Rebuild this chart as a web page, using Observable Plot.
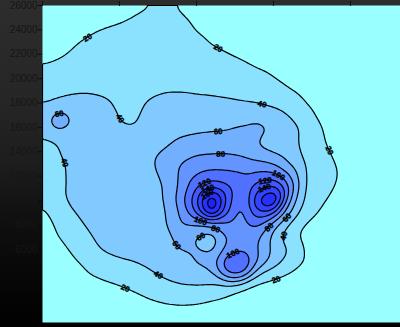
<!DOCTYPE html>
<html>
<head>
<meta charset="utf-8">
<script src="https://cdn.jsdelivr.net/npm/d3@7"></script>
<script src="https://cdn.jsdelivr.net/npm/@observablehq/plot@0.6"></script>
<style>
  html, body { margin: 0; padding: 0; background: #000; }
  #chart svg { display: block; }
</style>
</head>
<body>
<div id="chart"></div>
<script>
// Survey grid: node coordinates (x east, y north) and measured values per row (north to south)
const xNodes = [0, 1000, 2000, 3000, 4000, 5000, 6000, 7000, 8000, 9000, 10000, 11000, 12000,
                13000, 14000, 15000, 16000, 17000, 18000, 19000, 20000, 21000, 22000, 23000, 24000];
const yNodes = [26000, 25000, 24000, 23000, 22000, 21000, 20000, 19000, 18000, 17000, 16000, 15000, 14000,
                13000, 12000, 11000, 10000, 9000, 8000, 7000, 6000, 5000, 4000, 3000, 2000, 1000, 0];
const field = [
  [9,10,11,12,13,15,17,19,23,18,16,14,12,11,10,9,9,8,8,7,7,7,6,6,6],
  [10,11,12,13,15,17,20.5,24,25,21,17,15,13,12,11,10,10,9,9,8,8,7,7,7,6],
  [12,14,16,18.5,21,23,25,27,27,25,19,17,15,14,12,11,11,10,10,9,8,8,7,7,7],
  [14,16.5,19,21.5,24,26,28,30,30,28,23,18.5,16.5,15,14,12.5,12,11,10.5,10,9,9,8,8,7],
  [16,18.5,21,24,27,29,31,33,33,31,28,24,20.2,17.5,16,14.5,13.5,12.5,12,11,10.5,10,9,8.5,8],
  [20.5,22,24,27,30,32,34,35,35,34,32,29,26,22.5,18.5,16.5,15,14,13,12,11.5,11,10,9.5,9],
  [25.5,28,31,33,34,35,36,37,37.5,37,36,35,32,29,25,20.2,17.5,16,15,14,13,12,11.5,11,10],
  [31,36,39,39.5,38.5,37,37,38,39.5,39.5,38.5,38,37,34,30,25.5,20.5,17,16,15,14,13.5,13,12,11],
  [39.5,42.5,44,43,41.5,38.5,37.5,41.5,43,43.5,43.5,43,42,40.8,39,34,27.5,19.5,17.5,16.5,15.5,15,14,13,12],
  [50,70,57,46,43,39.5,38,44,48,50,51,51,51,52,56,51,39.5,23,18.5,17.5,16.5,16,15,14,13],
  [48,70,57,47,44,40.5,39.5,46,52,55,57,58,59,62,64,58.5,50,36,19.5,18,17,16.5,16,15,14],
  [38.5,41,46,47,47,47,48,51,56,61.5,63,64,64,64,60,55,48,35,20.5,18,17,16.5,16,15.5,15],
  [33,39.5,44.5,47,48,49,51,56,62,70,76,77,78,74,61,56,50,36,25,17,16.5,16,16,15.5,15],
  [31,37.5,43,47,49,51,54,57.5,68,82,90,93,93,92,88,79,59,39.5,28,19.5,17.5,17,16.5,16,15.5],
  [30,36,44,47,50,52,55,57.5,62,84,102,108,106,102,106,110,84,39.5,28,20.3,17.5,17,16.5,16,15.5],
  [29,36.5,43,47,50,52,54,56,59.5,85,118,140,125,104,140,152,103,38,26,19,17.5,17,16.5,16,15.5],
  [21,32,46,48,50,52,54,56,59,92,135,215,130,92,165,200,82,37,22,17,16,16,15.5,15.5,15],
  [17,26,39,46,49,52,54,56,57,84,125,200,120,90,135,125,62,30,18,16,15.5,15.5,15,15,14.5],
  [14,22,33,43,48,51,53,55,56,84,80,82,100,92,104,66,38,18,15,14.5,14.5,14,14,14,13.5],
  [16,19,26,38,45,50,53,55,57,64,58,45,81,90,84,52,28,14,13.5,13.5,13,13,13,13,13],
  [12,16,22,33,43,48,51,54,57,61,62,52,88,97,79.5,56,40.5,18.5,13,12.5,12.5,12,12,12,12],
  [9,12,17.5,24,31,36,39,44,50,55,61,70,118,122,79,52,32,20.5,12,11.5,11,11,11,11,11],
  [7,9,13,20.5,26,30,33,38,44,49,54,55,106,110,41,28,19.5,12,11,10.5,10,10,10,10,10],
  [5,7,9,12,15,19,24,30,35,39,39.5,38,35,22,15,12,11,10,10,9.5,9.5,9,9,9,9],
  [4,5,6,8,10,13,16,20.5,24,26,25,21.5,17,13,11,10,9.5,9,9,8.5,8.5,8.5,8,8,8],
  [3,4,5,6,8,10,12,14,15.5,16,15,13,11,10,9,8,8,7.5,7.5,7,7,7,7,7,7],
  [2,3,4,5,6,7,8,9,10,10,10,9,8,8,7,7,6,6,6,6,6,6,6,6,6]
];

// Contour levels and the fill of each band (below 20, 20–40, … , 200 and above)
const levels = [20, 40, 60, 80, 100, 120, 140, 160, 180, 200];
const bandColors = ["#99ffff", "#8ae2ff", "#80caff", "#72b0ff", "#6494ff", "#5070ff",
                    "#4058ff", "#3242ff", "#2630ff", "#1c22ff", "#1212ff"];

// Axis ticks
const yTicks = [6000, 8000, 10000, 12000, 14000, 16000, 18000, 20000, 22000, 24000, 26000];
const xTicks = [0, 5000, 10000, 15000, 20000];

const samples = [];
yNodes.forEach((y, r) => xNodes.forEach((x, c) => samples.push({x, y, v: field[r][c]})));

function draw(labels) {
  return Plot.plot({
    width: 400,
    height: 327,
    marginTop: 5,
    marginBottom: 5,
    marginLeft: 42,
    marginRight: 0,
    style: {
      background: "linear-gradient(to bottom, #2d2d2d 0%, #262626 30%, #1d1d1d 50%, #111 65%, #090909 80%, #000 100%)",
      fontFamily: "'Liberation Sans', Arial, sans-serif",
      fontSize: "10px"
    },
    x: {domain: [0, 23250], axis: null},
    y: {domain: [0, 26000], axis: null},
    color: {type: "threshold", domain: levels, range: bandColors},
    marks: [
      Plot.frame({fill: bandColors[0]}),
      Plot.contour(samples, {
        x: "x", y: "y", fill: "v",
        interpolate: "barycentric",
        thresholds: levels,
        blur: 2,
        stroke: "#000",
        strokeWidth: 1.2,
        clip: true
      }),
      labels ? Plot.text(labels, {
        x: "x", y: "y", text: d => String(d.level), rotate: "angle",
        fontSize: 8, fontWeight: "bold", fill: "#000",
        stroke: "#000", strokeWidth: 0.35, clip: true
      }) : null,
      Plot.axisY(yTicks, {
        tickSize: 4, tickPadding: 1, label: null,
        tickFormat: d => String(d),
        stroke: "#0c0c0c", fill: "#161616"
      }),
      Plot.axisX(xTicks, {
        anchor: "top", tickSize: 5, label: null,
        tickFormat: () => "",
        stroke: "#111"
      })
    ]
  });
}

// Walk each contour ring and put its level along the line, spaced by path length
function contourLabels(chart) {
  const sx = chart.scale("x"), sy = chart.scale("y");
  const inv = (s, v) => s.domain[0] + (v - s.range[0]) / (s.range[1] - s.range[0]) * (s.domain[1] - s.domain[0]);
  const hex = bandColors.map(c => d3.color(c).formatHex());
  const out = [];
  chart.querySelectorAll('g[aria-label="contour"] path').forEach(p => {
    const f = d3.color(p.getAttribute("fill") || "");
    const i = f ? hex.indexOf(f.formatHex()) : -1;
    if (i < 1) return;
    const level = levels[i - 1];
    (p.getAttribute("d") || "").split(/(?=M)/).forEach(sub => {
      if (!sub.trim()) return;
      const ring = document.createElementNS("http://www.w3.org/2000/svg", "path");
      ring.setAttribute("d", sub);
      p.parentNode.appendChild(ring);
      const len = ring.getTotalLength();
      const m = ring.getCTM();
      const at = s => {
        const q = ring.getPointAtLength(((s % len) + len) % len);
        return new DOMPoint(q.x, q.y).matrixTransform(m);
      };
      const inside = c => c.x > 46 && c.x < 396 && c.y > 9 && c.y < 318;
      if (len >= 45) {
        const n = Math.max(1, Math.round(len / 150));
        for (let k = 0; k < n; k++) {
          const s = len * (k + 0.5) / n;
          const c = at(s), a = at(s - 4), b = at(s + 4);
          if (!inside(c) || !inside(a) || !inside(b)) continue;
          let ang = Math.atan2(b.y - a.y, b.x - a.x) * 180 / Math.PI;
          if (ang > 90) ang -= 180;
          if (ang < -90) ang += 180;
          out.push({x: inv(sx, c.x), y: inv(sy, c.y), level, angle: ang});
        }
      }
      ring.remove();
    });
  });
  return out;
}

const host = document.getElementById("chart");
const base = draw(null);
host.append(base);
const labels = contourLabels(base);
host.replaceChildren(draw(labels));
</script>
</body>
</html>
